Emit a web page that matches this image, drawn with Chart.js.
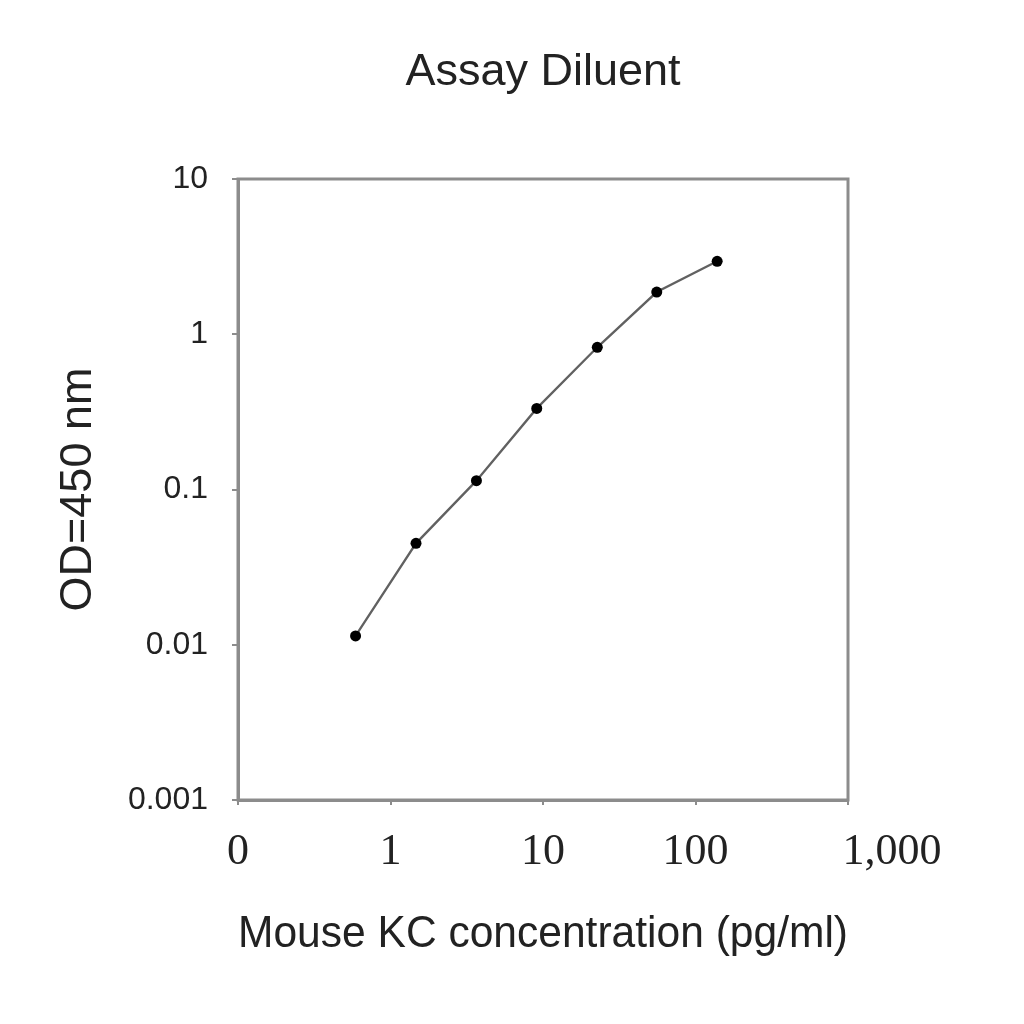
<!DOCTYPE html>
<html>
<head>
<meta charset="utf-8">
<title>Assay Diluent</title>
<script src="https://cdn.jsdelivr.net/npm/chart.js@4.4.1/dist/chart.umd.min.js"></script>
<style>
    html, body { margin: 0; padding: 0; background: #ffffff; }
    #wrap { width: 1024px; height: 1024px; }
</style>
</head>
<body>
<div id="wrap"><canvas id="kc-chart" width="1024" height="1024"></canvas></div>
<script>
// Standard curve values
const concentrations = [0.59, 1.47, 3.66, 9.1, 22.7, 55.7, 138.7]; // pg/ml
const odValues = [0.0114, 0.045, 0.114, 0.333, 0.824, 1.87, 2.95]; // OD at 450 nm

// Decade ticks and their printed labels
const xTickValues = [0.1, 1, 10, 100, 1000];
const xTickLabels = ['0', '1', '10', '100', '        1,000'];
const yTickValues = [0.001, 0.01, 0.1, 1, 10];
const yTickLabels = ['0.001', '0.01', '0.1', '1', '10'];

const frameColor = '#8c8c8c';
const textColor = '#222222';
const sansFont = 'Liberation Sans, Arial, sans-serif';

// Draws the grey box round the plot area
const frameBox = {
    id: 'frameBox',
    afterDatasetsDraw(chart) {
        const a = chart.chartArea;
        const ctx = chart.ctx;
        ctx.save();
        ctx.strokeStyle = frameColor;
        ctx.lineWidth = 3;
        ctx.strokeRect(a.left, a.top, a.right - a.left, a.bottom - a.top);
        ctx.restore();
    }
};

function renderKcChart() {
    const canvas = document.getElementById('kc-chart');
    if (!canvas) {
        console.error('Chart canvas not found');
        return;
    }
    const ctx = canvas.getContext('2d');

    const points = concentrations.map((c, i) => ({ x: c, y: odValues[i] }));

    new Chart(ctx, {
        type: 'scatter',
        data: {
            datasets: [{
                label: 'Assay Diluent',
                data: points,
                showLine: true,
                borderColor: '#616161',
                borderWidth: 2.3,
                pointRadius: 5.5,
                pointBackgroundColor: '#000000',
                pointBorderColor: '#000000',
                pointBorderWidth: 0,
                tension: 0
            }]
        },
        options: {
            responsive: false,
            animation: false,
            layout: { padding: { left: 0, right: 176, top: 0, bottom: 0 } },
            plugins: {
                legend: { display: false },
                tooltip: { enabled: false }
            },
            scales: {
                // top axis only carries the chart title, centred on the plot box
                top: {
                    type: 'logarithmic',
                    position: 'top',
                    min: 0.1,
                    max: 1000,
                    afterFit: scale => { scale.height = 179; },
                    ticks: { display: false },
                    grid: { display: false },
                    border: { display: false },
                    title: {
                        display: true,
                        text: 'Assay Diluent',
                        color: textColor,
                        font: { family: sansFont, size: 45 },
                        padding: { top: 46, bottom: 46 }
                    }
                },
                x: {
                    type: 'logarithmic',
                    position: 'bottom',
                    min: 0.1,
                    max: 1000,
                    afterBuildTicks: scale => {
                        scale.ticks = xTickValues.map(v => ({ value: v }));
                    },
                    afterFit: scale => { scale.height = 224; },
                    ticks: {
                        autoSkip: false,
                        maxRotation: 0,
                        padding: 21,
                        color: textColor,
                        font: { family: 'Liberation Serif, Times New Roman, serif', size: 44 },
                        callback: (value) => xTickLabels[xTickValues.indexOf(value)]
                    },
                    grid: { drawOnChartArea: false, drawTicks: true, tickLength: 5, color: frameColor, lineWidth: 2 },
                    border: { display: true, color: frameColor, width: 3 },
                    title: {
                        display: true,
                        text: 'Mouse KC concentration (pg/ml)',
                        color: textColor,
                        font: { family: sansFont, size: 45 },
                        padding: { top: 62, bottom: 62 }
                    }
                },
                y: {
                    type: 'logarithmic',
                    min: 0.001,
                    max: 10,
                    afterBuildTicks: scale => {
                        scale.ticks = yTickValues.map(v => ({ value: v }));
                    },
                    afterFit: scale => { scale.width = 238; },
                    ticks: {
                        autoSkip: false,
                        padding: 24,
                        color: textColor,
                        font: { family: sansFont, size: 32 },
                        callback: (value) => yTickLabels[yTickValues.indexOf(value)]
                    },
                    grid: { drawOnChartArea: false, drawTicks: true, tickLength: 6, color: frameColor, lineWidth: 2 },
                    border: { display: true, color: frameColor, width: 3 },
                    title: {
                        display: true,
                        text: 'OD=450 nm',
                        color: textColor,
                        font: { family: sansFont, size: 45 },
                        padding: { top: 52, bottom: 52 }
                    }
                }
            }
        },
        plugins: [frameBox]
    });
}

renderKcChart();
</script>
</body>
</html>
